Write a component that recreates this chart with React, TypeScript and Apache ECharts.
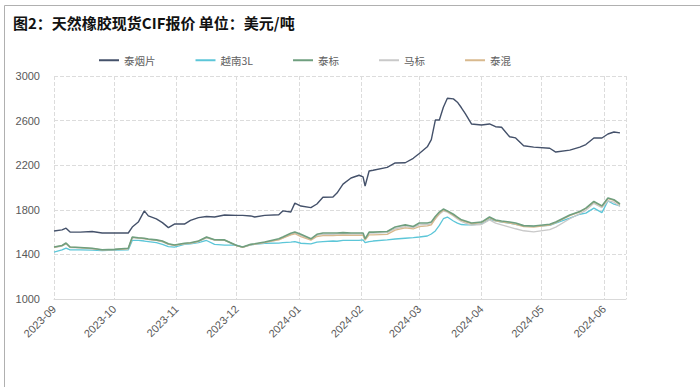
import React, { useEffect, useRef } from "react";
import * as echarts from "echarts";

const dates = [
  "2023-09-01","2023-09-05","2023-09-07","2023-09-09","2023-09-14","2023-09-20","2023-09-25",
  "2023-10-01","2023-10-08","2023-10-10","2023-10-13","2023-10-16","2023-10-18","2023-10-22",
  "2023-10-25","2023-10-28","2023-10-31","2023-11-05","2023-11-08","2023-11-12","2023-11-16",
  "2023-11-20","2023-11-25","2023-12-01","2023-12-04","2023-12-08","2023-12-10","2023-12-15",
  "2023-12-22","2023-12-24","2023-12-28","2023-12-30","2024-01-02","2024-01-07","2024-01-10",
  "2024-01-13","2024-01-18","2024-01-20","2024-01-23","2024-01-27","2024-01-31","2024-02-02",
  "2024-02-03","2024-02-05","2024-02-07","2024-02-14","2024-02-18","2024-02-23","2024-02-27",
  "2024-03-01","2024-03-05","2024-03-07","2024-03-09","2024-03-11","2024-03-13","2024-03-15",
  "2024-03-18","2024-03-20","2024-03-22","2024-03-24","2024-03-27","2024-04-01","2024-04-05",
  "2024-04-08","2024-04-11","2024-04-15","2024-04-18","2024-04-22","2024-04-27","2024-05-05",
  "2024-05-08","2024-05-15","2024-05-20","2024-05-23","2024-05-27","2024-05-31","2024-06-03",
  "2024-06-06","2024-06-09",
];

const thaiRSS = [
  1610,1620,1635,1600,1600,1605,1592,1592,1592,1645,1690,1790,1745,1718,1685,1640,1672,1672,1705,1730,
  1740,1735,1753,1750,1750,1745,1735,1750,1755,1790,1780,1860,1834,1820,1852,1912,1915,1950,2030,2085,
  2110,2095,2013,2148,2155,2180,2220,2222,2262,2305,2365,2430,2605,2605,2720,2800,2795,2765,2715,2660,
  2570,2560,2570,2545,2540,2455,2445,2375,2362,2352,2318,2335,2362,2385,2444,2444,2480,2498,2490,
];

const vn3L = [
  1421,1440,1457,1440,1440,1438,1435,1438,1440,1525,1525,1520,1515,1505,1490,1470,1465,1490,1495,1505,
  1525,1490,1484,1484,1466,1485,1490,1500,1502,1505,1510,1515,1500,1495,1510,1515,1520,1518,1525,1525,
  1525,1530,1505,1515,1520,1530,1538,1545,1550,1556,1565,1583,1610,1660,1720,1735,1700,1680,1668,1665,
  1665,1673,1715,1700,1690,1680,1670,1655,1652,1660,1680,1725,1760,1770,1815,1775,1880,1850,1835,
];

const thaiSTR = [
  1466,1480,1502,1466,1462,1455,1442,1445,1455,1556,1550,1545,1538,1530,1520,1495,1485,1500,1505,1520,
  1556,1532,1530,1480,1466,1490,1495,1511,1540,1556,1590,1601,1580,1540,1580,1592,1592,1592,1595,1592,
  1592,1592,1540,1600,1600,1605,1646,1665,1650,1682,1682,1690,1740,1780,1807,1790,1760,1735,1710,1700,
  1682,1690,1735,1708,1700,1690,1682,1658,1655,1670,1690,1753,1785,1815,1875,1835,1905,1890,1852,
];

const mySMR = [
  1460,1475,1495,1462,1458,1450,1440,1442,1450,1550,1545,1540,1532,1525,1512,1490,1480,1495,1500,1515,
  1548,1528,1525,1478,1462,1485,1490,1505,1532,1548,1580,1590,1570,1535,1570,1580,1580,1582,1585,1582,
  1582,1582,1532,1590,1590,1595,1630,1650,1640,1665,1668,1675,1720,1760,1790,1778,1745,1718,1695,1680,
  1662,1668,1710,1680,1665,1645,1630,1612,1602,1622,1645,1720,1765,1795,1858,1820,1880,1868,1830,
];

const thaiMix = [
  1462,1478,1498,1465,1460,1452,1440,1443,1452,1552,1548,1542,1535,1527,1516,1492,1482,1497,1502,1518,
  1552,1530,1528,1478,1464,1488,1492,1508,1530,1545,1575,1585,1560,1528,1560,1568,1568,1570,1572,1570,
  1570,1570,1528,1575,1576,1580,1618,1638,1628,1650,1655,1665,1720,1768,1798,1785,1752,1728,1705,1692,
  1675,1685,1728,1700,1692,1680,1670,1650,1645,1662,1685,1748,1782,1812,1870,1830,1900,1885,1845,
];

const seriesNames = ["泰烟片", "越南3L", "泰标", "马标", "泰混"];
const yTicks = { min: 1000, max: 3000, interval: 400 };

const pair = (vals: number[]) => dates.map((d, i) => [d, vals[i]]);

export default function App() {
  const ref = useRef<HTMLDivElement>(null);
  useEffect(() => {
    document.body.style.margin = "0";
    if (!ref.current) return;
    const chart = echarts.init(ref.current, undefined, { renderer: "svg" });
    const mk = (name: string, vals: number[], color: string, width: number) => ({
      name,
      type: "line",
      data: pair(vals),
      showSymbol: false,
      symbol: "none",
      lineStyle: { color, width },
      itemStyle: { color },
    });
    chart.setOption({
      animation: false,
      backgroundColor: "#ffffff",
      title: {
        text: "图2：天然橡胶现货CIF报价 单位：美元/吨",
        left: 8,
        top: 10,
        textStyle: {
          fontSize: 15,
          fontWeight: "bold",
          color: "#111",
          fontFamily: "Noto Sans CJK SC",
        },
      },
      graphic: [
        {
          type: "rect",
          shape: { x: 4.5, y: 5.5, width: 720, height: 400 },
          style: { fill: "none", stroke: "#b0b0b0", lineWidth: 1 },
          silent: true,
        },
      ],
      legend: {
        data: seriesNames,
        left: 94,
        top: 50,
        itemGap: 40,
        itemWidth: 20,
        itemHeight: 2,
        icon: "rect",
        textStyle: { fontSize: 10.5, color: "#606060", fontFamily: "Noto Sans CJK SC" },
      },
      grid: { left: 54, right: 74, top: 76, bottom: 88, containLabel: false },
      xAxis: {
        type: "time",
        min: "2023-09-01",
        max: "2024-06-12",
        minInterval: 28 * 86400000,
        maxInterval: 31 * 86400000,
        axisLine: { show: true, lineStyle: { color: "#d9d9d9" } },
        axisTick: { show: false },
        axisLabel: {
          rotate: 45,
          fontSize: 11,
          color: "#595959",
          fontFamily: "Liberation Sans",
          margin: 8,
          hideOverlap: false,
          formatter: (val: number) => {
            const d = new Date(val);
            return `${d.getFullYear()}-${String(d.getMonth() + 1).padStart(2, "0")}`;
          },
        },
        splitLine: { show: true, lineStyle: { color: "#dcdcdc", type: "dashed" } },
      },
      yAxis: {
        type: "value",
        min: yTicks.min,
        max: yTicks.max,
        interval: yTicks.interval,
        axisLine: { show: false },
        axisTick: { show: false },
        axisLabel: {
          fontSize: 11,
          color: "#595959",
          fontFamily: "Liberation Sans",
          margin: 14,
          formatter: (v: number) => String(v),
        },
        splitLine: { show: true, lineStyle: { color: "#dcdcdc", type: "dashed" } },
      },
      series: [
        mk("泰烟片", thaiRSS, "#44516a", 1.4),
        mk("越南3L", vn3L, "#5cc6d8", 1.3),
        mk("马标", mySMR, "#c9c9c9", 1.3),
        mk("泰混", thaiMix, "#d8b98e", 1.3),
        mk("泰标", thaiSTR, "#6f9f7f", 1.6),
      ],
    });
    return () => chart.dispose();
  }, []);
  return <div ref={ref} style={{ width: 700, height: 387 }} />;
}
